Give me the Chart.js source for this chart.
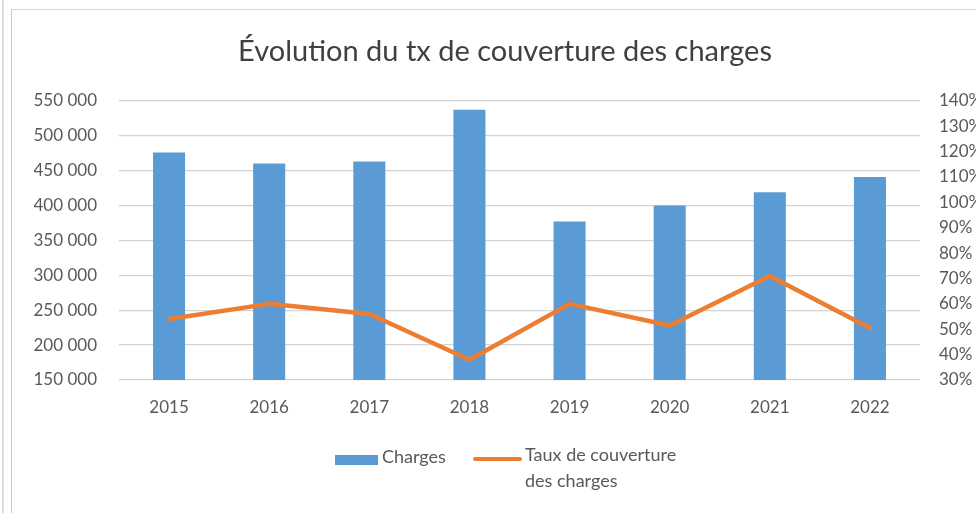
<!DOCTYPE html>
<html>
<head>
<meta charset="utf-8">
<script src="https://cdn.jsdelivr.net/npm/chart.js@4.4.1/dist/chart.umd.min.js"></script>
<style>
  body { margin: 0; background: #fff; }
  #wrap { position: relative; width: 976px; height: 513px; overflow: hidden; font-family: Lato, "Open Sans", sans-serif; }
  canvas { position: absolute; left: 0; top: 0; }
  .edge { position: absolute; left: 2px; top: 0; width: 2px; height: 513px; background: #dcdcdc; }
  .frame { position: absolute; left: 11px; top: 9px; width: 1000px; height: 600px; border-left: 1px solid #c8c8c8; border-top: 1px solid #d4d4d4; }
  #legend { position: absolute; left: 335px; top: 446px; color: #595959; font-size: 18px; }
  .item { position: absolute; white-space: nowrap; }
  .box { position: absolute; width: 43px; height: 10px; background: #5B9BD5; }
  .ln { position: absolute; width: 49px; height: 4px; background: #ED7D31; border-radius: 2px; }
</style>
</head>
<body>
<div id="wrap">
  <canvas id="chart" width="976" height="513"></canvas>
  <div class="edge"></div>
  <div class="frame"></div>
  <div id="legend">
    <div class="box" style="left:0;top:9px"></div>
    <div class="item" style="left:47px;top:-1px">Charges</div>
    <div class="ln" style="left:138px;top:11px"></div>
    <div class="item" style="left:190px;top:0;line-height:26px;margin-top:-5px">Taux de couverture<br>des charges</div>
  </div>
</div>
<script>
const years = ['2015', '2016', '2017', '2018', '2019', '2020', '2021', '2022'];
const charges = [476000, 460000, 463000, 537000, 377000, 400000, 419000, 441000];
const tauxCouverture = [54, 60, 56, 38, 60, 51.5, 71, 50.5];

const grey = '#595959';
const tickFont = { family: 'Lato', size: 17 };

function fmtEspace(v) {
  return String(v).replace(/\B(?=(\d{3})+(?!\d))/g, ' ');
}

new Chart(document.getElementById('chart'), {
  data: {
    labels: years,
    datasets: [
      {
        type: 'line',
        label: 'Taux de couverture des charges',
        data: tauxCouverture,
        yAxisID: 'y2',
        borderColor: '#ED7D31',
        borderWidth: 4.5,
        pointRadius: 0,
        tension: 0,
        borderJoinStyle: 'round',
        borderCapStyle: 'round',
        order: 0
      },
      {
        type: 'bar',
        label: 'Charges',
        data: charges,
        yAxisID: 'y',
        backgroundColor: '#5B9BD5',
        barPercentage: 0.32,
        categoryPercentage: 1,
        order: 1
      }
    ]
  },
  options: {
    responsive: false,
    animation: false,
    // left padding shifts the title centre; the y axis width makes up for it
    layout: { padding: { left: 34, right: 0, top: 0, bottom: 0 } },
    plugins: {
      legend: { display: false },
      tooltip: { enabled: false },
      title: {
        display: true,
        text: 'Évolution du tx de couverture des charges',
        color: '#404040',
        font: { family: 'Lato', size: 29, weight: 'normal', lineHeight: 1.2 },
        padding: { top: 34, bottom: 32 }
      }
    },
    scales: {
      x: {
        grid: { display: false, drawTicks: false },
        border: { display: false },
        ticks: { color: grey, font: tickFont, padding: 17 },
        afterFit: s => { s.height = 133; }
      },
      y: {
        position: 'left',
        min: 150000,
        max: 550000,
        ticks: { stepSize: 50000, color: grey, font: tickFont, padding: 22, callback: v => fmtEspace(v) },
        grid: { color: '#d3d3d3', lineWidth: 1.3, drawTicks: false },
        border: { display: false },
        afterFit: s => { s.width = 85; }
      },
      y2: {
        position: 'right',
        min: 30,
        max: 140,
        ticks: { stepSize: 10, color: grey, font: tickFont, padding: 19, callback: v => v + '%' },
        grid: { display: false, drawTicks: false },
        border: { display: false },
        afterFit: s => { s.width = 56; }
      }
    }
  }
});
</script>
</body>
</html>
